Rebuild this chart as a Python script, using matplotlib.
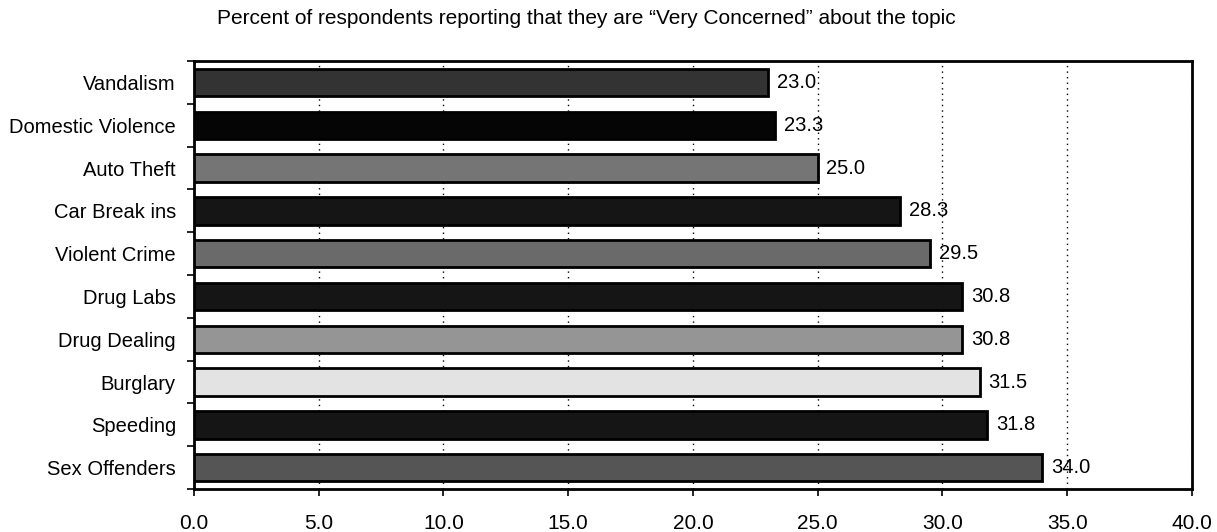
import matplotlib
matplotlib.use("Agg")
import matplotlib.pyplot as plt
import numpy as np

categories = ["Vandalism", "Domestic Violence", "Auto Theft", "Car Break ins",
              "Violent Crime", "Drug Labs", "Drug Dealing", "Burglary",
              "Speeding", "Sex Offenders"]
values = [23.0, 23.3, 25.0, 28.3, 29.5, 30.8, 30.8, 31.5, 31.8, 34.0]
bar_colors = ["#333333", "#050505", "#757575", "#151515", "#6a6a6a",
              "#151515", "#959595", "#e3e3e3", "#151515", "#555555"]
title = "Percent of respondents reporting that they are \u201cVery Concerned\u201d about the topic"
xticks = [0, 5, 10, 15, 20, 25, 30, 35, 40]

plt.rcParams['font.family'] = ['Liberation Sans', 'DejaVu Sans']

fig = plt.figure(figsize=(12.17, 5.32), dpi=100)
ax = fig.add_axes([0.1594, 0.0808, 0.8200, 0.8045])

y = np.arange(len(categories))
ax.barh(y, values, height=0.64, color=bar_colors, edgecolor="black", linewidth=2.0, zorder=3)
for yi, v in zip(y, values):
    ax.text(v + 0.35, yi, f"{v:.1f}", va="center", ha="left", fontsize=14.5, zorder=4)

ax.set_ylim(len(categories) - 0.5, -0.5)
ax.set_xlim(0, 40)
ax.set_yticks(y)
ax.set_yticklabels(categories, fontsize=14.5)
ax.set_yticks(np.arange(-0.5, len(categories), 1.0), minor=True)
ax.tick_params(axis="y", which="major", length=0, pad=13)
ax.tick_params(axis="y", which="minor", length=5, width=1.2, direction="out")
ax.set_xticks(xticks)
ax.set_xticklabels([f"{t:.1f}" for t in xticks], fontsize=15)
ax.tick_params(axis="x", which="major", length=5, width=1.2, pad=13)

ax.grid(axis="x", linestyle=(0, (1, 3)), color="black", linewidth=1.0, zorder=0)
for s in ax.spines.values():
    s.set_linewidth(2.0)

fig.text(0.482, 0.965, title, ha="center", va="center", fontsize=15)

fig.savefig("out.png", dpi=100)
